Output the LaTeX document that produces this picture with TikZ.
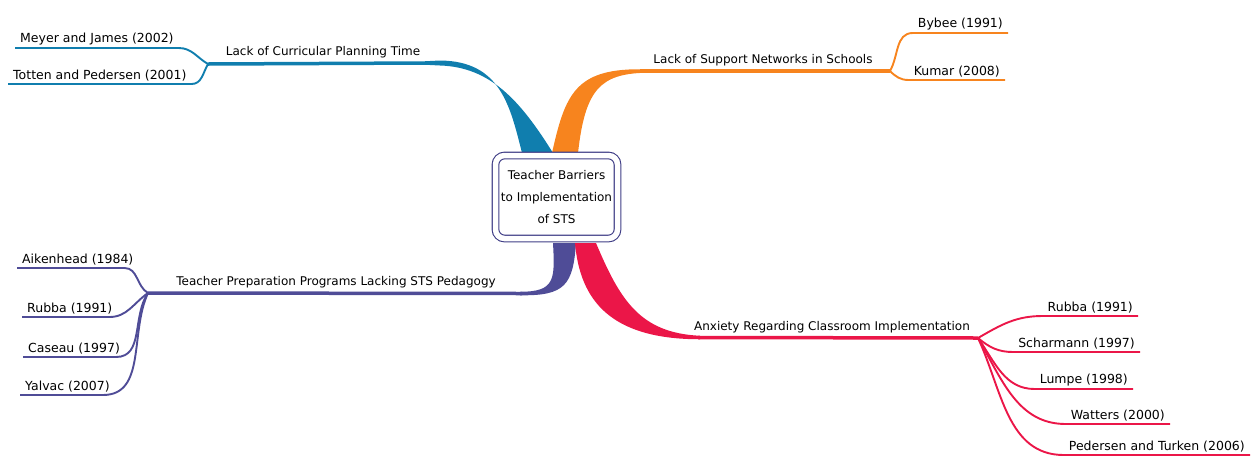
\documentclass[tikz,border=0pt]{standalone}
\usepackage{fontspec}
\setmainfont{DejaVu Sans}
\usetikzlibrary{shadows}
\definecolor{cplan}{HTML}{107EAE}
\definecolor{csupp}{HTML}{F7841E}
\definecolor{cprep}{HTML}{4F4C97}
\definecolor{canx}{HTML}{EB1648}
\definecolor{cbox}{HTML}{3F3D86}

\begin{document}
\begin{tikzpicture}[x=1pt,y=-1pt,
	leaf/.style={inner xsep=5pt,inner ysep=3pt,font=\fontsize{12.5}{14}\selectfont},
	topic/.style={inner sep=3pt,anchor=south,font=\fontsize{12}{14}\selectfont},
	sub/.style={line width=1.9pt},
	trunk/.style={line width=3.5pt}]
	\useasboundingbox (0,0) rectangle (1255,456);
	% ribbons out of the centre box
	\fill[cplan] (522,153) .. controls (510,105) and (500,61) .. (440,60.5) -- (425,61.25) -- (425,64.75) -- (440,65.5) .. controls (490,67) and (520,100) .. (553,153) -- cycle;
	\fill[csupp] (552,153) .. controls (565,95) and (575,69) .. (640,69.25) -- (645,72.75) .. controls (600,74) and (585,90) .. (578,153) -- cycle;
	\fill[cprep] (553,243) .. controls (555,280) and (555,291.75) .. (520,291.75) -- (520,295.25) .. controls (565,296) and (573,285) .. (576,243) -- cycle;
	\fill[canx] (575,243) .. controls (580,300) and (610,339.25) .. (700,339.25) -- (700,335.75) .. controls (640,333) and (620,300) .. (596,243) -- cycle;
	% trunks and forks
	\coordinate (planend) at (428,63); \coordinate (planfork) at (208,64);
	\coordinate (suppend) at (640,71); \coordinate (suppfork) at (890,71);
	\coordinate (prepend) at (522,293.5); \coordinate (prepfork) at (148,293);
	\coordinate (anxend) at (698,337.5); \coordinate (anxfork) at (978,338);
	\draw[trunk,cplan] (planend) -- (planfork);
	\draw[trunk,csupp] (suppend) -- (suppfork);
	\draw[trunk,cprep] (prepend) -- (prepfork);
	\draw[trunk,canx] (anxend) -- (anxfork);
	\node[topic] (plan) at (323,61) {Lack of Curricular Planning Time};
	\node[topic] (supp) at (763,69) {Lack of Support Networks in Schools};
	\node[topic] (prep) at (336,291) {Teacher Preparation Programs Lacking STS Pedagogy};
	\node[topic] (anx) at (832,336) {Anxiety Regarding Classroom Implementation};
	% leaves
	\node[leaf,anchor=south west] (meyer) at (15,48) {Meyer and James (2002)};
	\node[leaf,anchor=south west] (totten) at (8,84) {Totten and Pedersen (2001)};
	\node[leaf,anchor=south east] (bybee) at (1008,33) {Bybee (1991)};
	\node[leaf,anchor=south east] (kumar) at (1005,80) {Kumar (2008)};
	\node[leaf,anchor=south west] (aiken) at (17,268) {Aikenhead (1984)};
	\node[leaf,anchor=south west] (rubbaA) at (22,317) {Rubba (1991)};
	\node[leaf,anchor=south west] (caseau) at (23,357) {Caseau (1997)};
	\node[leaf,anchor=south west] (yalvac) at (20,395) {Yalvac (2007)};
	\node[leaf,anchor=south east] (rubbaB) at (1138,316) {Rubba (1991)};
	\node[leaf,anchor=south east] (scharm) at (1140,352) {Scharmann (1997)};
	\node[leaf,anchor=south east] (lumpe) at (1133,389) {Lumpe (1998)};
	\node[leaf,anchor=south east] (watters) at (1170,424) {Watters (2000)};
	\node[leaf,anchor=south east] (pedersen) at (1250,455) {Pedersen and Turken (2006)};
	\draw[sub,cplan] (planfork) to[out=150,in=0] (meyer.south east) -- (meyer.south west);
	\draw[sub,cplan] (planfork) to[out=-120,in=0] (totten.south east) -- (totten.south west);
	\draw[sub,csupp] (suppfork) to[out=60,in=180] (bybee.south west) -- (bybee.south east);
	\draw[sub,csupp] (suppfork) to[out=-45,in=180] (kumar.south west) -- (kumar.south east);
	\draw[sub,cprep] (prepfork) to[out=150,in=0] ([xshift=-14pt]aiken.south east) -- (aiken.south west);
	\draw[sub,cprep] (prepfork) to[out=-145,in=0] ([xshift=-8pt]rubbaA.south east) -- (rubbaA.south west);
	\draw[sub,cprep] (prepfork) to[out=-125,in=0] ([xshift=-9pt]caseau.south east) -- (caseau.south west);
	\draw[sub,cprep] (prepfork) to[out=-115,in=0] ([xshift=-12pt]yalvac.south east) -- (yalvac.south west);
	\draw[sub,canx] (anxfork) to[out=30,in=180] (rubbaB.south west) -- (rubbaB.south east);
	\draw[sub,canx] (anxfork) to[out=-40,in=180] (scharm.south west) -- (scharm.south east);
	\draw[sub,canx] (anxfork) to[out=-55,in=180] (lumpe.south west) -- (lumpe.south east);
	\draw[sub,canx] (anxfork) to[out=-60,in=180] (watters.south west) -- (watters.south east);
	\draw[sub,canx] (anxfork) to[out=-65,in=180] (pedersen.south west) -- (pedersen.south east);
	% centre box
	\node[draw=cbox,fill=white,line width=1.1pt,double=white,double distance=5.5pt,rounded corners=9pt,
		minimum width=122pt,minimum height=83pt,align=center,font=\fontsize{12}{22}\selectfont,
		drop shadow={opacity=0.25,shadow xshift=1.5pt,shadow yshift=-1.5pt}] (root) at (556.5,197)
		{Teacher Barriers\\to Implementation\\of STS};
\end{tikzpicture}
\end{document}
